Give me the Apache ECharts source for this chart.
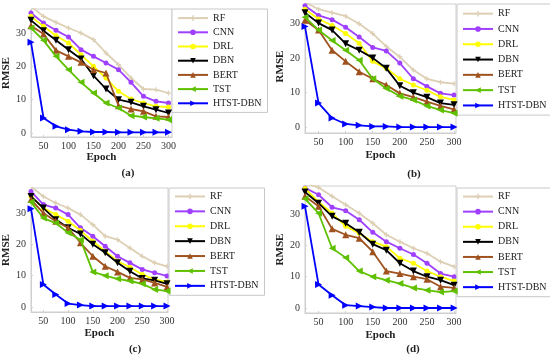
<!DOCTYPE html>
<html>
<head>
<meta charset="utf-8">
<script src="https://cdn.jsdelivr.net/npm/echarts@6/dist/echarts.min.js"></script>
<style>html,body{margin:0;padding:0;background:#fff;}#c{width:550px;height:362px;}</style>
</head>
<body>
<div id="c"></div>
<script>
// ---- data ----
const epochs = [25, 50, 75, 100, 125, 150, 175, 200, 225, 250, 275, 300];
const xTicks = [50, 100, 150, 200, 250, 300];
const yTicks = [0, 10, 20, 30];
const methods = ['RF', 'CNN', 'DRL', 'DBN', 'BERT', 'TST', 'HTST-DBN'];
const panelLabels = ['(a)', '(b)', '(c)', '(d)'];
const xName = 'Epoch';
const yName = 'RMSE';

// panel (a)
const rfA   = [38, 35, 33.2, 31.5, 30, 28, 24, 20.5, 16.5, 13.2, 13, 12];
const cnnA  = [36, 33, 30.8, 28.8, 25, 23, 21, 19, 15.2, 11, 9.5, 9];
const drlA  = [35, 32, 29.2, 27, 23.5, 20, 16.5, 12.5, 10.2, 9, 8, 7.8];
const dbnA  = [33.8, 30.7, 27.8, 25, 22.2, 17.2, 13.2, 10, 9.2, 8, 7, 6];
const bertA = [32.2, 29.7, 24.8, 23, 21.2, 19, 18, 8.2, 7.2, 6.5, 5, 4.8];
const tstA  = [31.5, 27.8, 23, 19, 15.2, 12, 9, 7.5, 5.2, 4.8, 4.4, 4];
const htstA = [27.2, 4.5, 2, 1, 0.5, 0.3, 0.3, 0.2, 0.2, 0.2, 0.2, 0.2];
// panel (b)
const rfB   = [36, 34, 33, 32, 29.8, 27, 23.3, 20.3, 16.5, 14, 13, 12.6];
const cnnB  = [35, 32.2, 31, 28.8, 26, 23, 22, 18.5, 14, 11.8, 9.8, 9.3];
const drlB  = [34, 31.2, 29.3, 27, 24.2, 19, 17, 14, 12.2, 10.7, 8.8, 7.9];
const dbnB  = [33, 30, 28, 24.1, 22.2, 20, 17, 12, 10, 8.7, 7, 6.5];
const bertB = [30.8, 28, 22.2, 19, 16, 14, 12.2, 9.8, 8.7, 7.4, 6.2, 5.2];
const tstB  = [31.7, 28, 25, 22.2, 19.3, 14, 11.2, 9, 7.9, 6.2, 5, 4.1];
const htstB = [29, 7, 2.7, 1, 0.6, 0.3, 0.3, 0.1, 0.1, 0.1, 0.1, 0.1];
// panel (c)
const rfC   = [38.5, 35.3, 33.2, 31.6, 29.5, 26.3, 22.6, 21.5, 18.8, 16.2, 14.1, 13];
const cnnC  = [36.9, 32.7, 31.6, 29.5, 25.3, 22.6, 19.4, 16.2, 14.1, 12, 10.9, 9.9];
const drlC  = [35.3, 31.6, 29.5, 27.4, 24.4, 21, 17.8, 14.6, 12.7, 10.4, 8.8, 8];
const dbnC  = [35.3, 31.6, 27.9, 25.3, 23.3, 20, 17.3, 14.1, 11.4, 9.1, 8.5, 7.4];
const bertC = [34.3, 30, 27.4, 25.3, 20.5, 16.2, 13, 11.2, 9.3, 8.8, 7.7, 6.4];
const tstC  = [33.5, 28.4, 26.8, 23.7, 21.5, 11.2, 10, 9, 8.3, 7.4, 5.6, 5.1];
const htstC = [31.4, 7.2, 4, 1.1, 0.6, 0.3, 0.3, 0.3, 0.3, 0.3, 0.3, 0.3];
// panel (d)
const rfD   = [40, 38.5, 35.7, 33, 30.3, 27.1, 23.4, 21.2, 19.1, 17.5, 14.8, 13.2];
const cnnD  = [38.4, 36.2, 32.2, 31.1, 28.2, 24.2, 21.2, 19.1, 17.1, 14.3, 11, 10];
const drlD  = [38.2, 33.9, 30.3, 26.1, 23.9, 21.2, 19.6, 15.9, 14.3, 11.8, 10, 8.6];
const dbnD  = [37.1, 33.5, 29.3, 27.1, 24.2, 20.4, 18.5, 14.3, 11.8, 10, 8.9, 7.3];
const bertD = [35.7, 32.5, 25.3, 23.4, 22.3, 18, 11.8, 11, 10, 9.2, 6.8, 6.4];
const tstD  = [34.9, 30.3, 19.1, 16.1, 11.8, 10, 8.9, 7.8, 6.4, 5.7, 5.1, 5.4];
const htstD = [32.5, 7.5, 4.1, 0.9, 0.6, 0.3, 0, 0, 0, 0, 0, 0];

const panelData = [
  [rfA, cnnA, drlA, dbnA, bertA, tstA, htstA],
  [rfB, cnnB, drlB, dbnB, bertB, tstB, htstB],
  [rfC, cnnC, drlC, dbnC, bertC, tstC, htstC],
  [rfD, cnnD, drlD, dbnD, bertD, tstD, htstD]
];

// ---- styles ----
const FONT = 'Liberation Serif';
const plusPath = 'path://M-1,-4H1V-1H4V1H1V4H-1V1H-4V-1H-1Z';
const styles = [
  { color: '#ddcfb4', symbol: plusPath, size: 5, rot: 0 },
  { color: '#a040ff', symbol: 'circle', size: 5, rot: 0 },
  { color: '#ffff00', symbol: 'circle', size: 5, rot: 0 },
  { color: '#000000', symbol: 'triangle', size: 7, rot: 180 },
  { color: '#a0521e', symbol: 'triangle', size: 7, rot: 0 },
  { color: '#5fc000', symbol: 'triangle', size: 7, rot: 90 },
  { color: '#0000ff', symbol: 'triangle', size: 7, rot: -90 }
];

// panel geometry (pixels)
const grids = [
  { left: 31, top: 9, w: 141, h: 128, xmax: 307, ymin: -1.2, ymax: 37.2, nameGapY: 16.5, nameGapX: 15, yShift: 0 },
  { left: 305, top: 4, w: 151, h: 129, xmax: 303.7, ymin: -1.6, ymax: 35.5, nameGapY: 19.5, nameGapX: 16.5, yShift: 4 },
  { left: 30, top: 188, w: 138, h: 124, xmax: 302, ymin: -1.6, ymax: 38, nameGapY: 19, nameGapX: 15.5, yShift: 0 },
  { left: 305, top: 186, w: 151, h: 127, xmax: 303.5, ymin: -1.6, ymax: 39, nameGapY: 17.5, nameGapX: 16.5, yShift: 0 }
];
const legends = [
  { left: 172, top: 9, w: 86, gap: 14.2, padTop: 2 },
  { left: 457, top: 4, w: 90, gap: 15.3, padTop: 2 },
  { left: 169, top: 188, w: 86, gap: 14.9, padTop: 1 },
  { left: 457, top: 188, w: 91, gap: 15.1, padTop: 1 }
];
const labelPos = [[128, 173], [414, 174], [135, 349], [413, 349]];

const option = {
  animation: false,
  backgroundColor: '#ffffff',
  textStyle: { fontFamily: FONT },
  grid: [], xAxis: [], yAxis: [], series: [], legend: [], title: []
};

grids.forEach((g, p) => {
  option.grid.push({
    left: g.left, top: g.top, width: g.w, height: g.h,
    show: true, borderColor: '#cfcfcf', borderWidth: 1, backgroundColor: 'transparent'
  });
  option.xAxis.push({
    type: 'value', gridIndex: p, min: 25, max: g.xmax,
    name: xName, nameLocation: 'middle', nameGap: g.nameGapX,
    nameTextStyle: { fontFamily: FONT, fontWeight: 'bold', fontSize: 11, color: '#222' },
    axisLine: { show: true, onZero: false, lineStyle: { color: '#cfcfcf' } },
    axisTick: { show: true, inside: true, length: 2, customValues: xTicks, lineStyle: { color: '#cfcfcf' } },
    axisLabel: { customValues: xTicks, fontFamily: FONT, fontSize: 10, color: '#333', margin: 4 },
    splitLine: { show: false }
  });
  option.yAxis.push({
    type: 'value', gridIndex: p, min: g.ymin, max: g.ymax,
    name: yName, nameLocation: 'middle', nameGap: g.nameGapY, nameRotate: 90,
    nameTextStyle: { fontFamily: FONT, fontWeight: 'bold', fontSize: 11, color: '#222', padding: [0, 0, 0, g.yShift] },
    axisLine: { show: true, onZero: false, lineStyle: { color: '#cfcfcf' } },
    axisTick: { show: true, inside: true, length: 2, customValues: yTicks, lineStyle: { color: '#cfcfcf' } },
    axisLabel: { customValues: yTicks, fontFamily: FONT, fontSize: 10, color: '#333', margin: 5 },
    splitLine: { show: false }
  });
  methods.forEach((m, i) => {
    const s = styles[i];
    option.series.push({
      name: m, type: 'line', xAxisIndex: p, yAxisIndex: p,
      data: epochs.map((e, k) => [e, panelData[p][i][k]]),
      symbol: s.symbol, symbolSize: s.size, symbolRotate: s.rot,
      showAllSymbol: true, clip: true, z: 2 + i,
      lineStyle: { color: s.color, width: 1.8 },
      itemStyle: { color: s.color, borderWidth: 0 }
    });
  });
  const L = legends[p];
  option.legend.push({
    orient: 'vertical', left: L.left, top: L.top, width: L.w,
    data: methods,
    itemWidth: 30, itemHeight: 7, itemGap: 0,
    padding: [L.padTop, 6, 2, 5],
    borderColor: '#c8c8c8', borderWidth: 1, backgroundColor: '#ffffff',
    textStyle: { fontFamily: FONT, fontSize: 10, color: '#222', lineHeight: L.gap, padding: [0, 0, 0, 0] },
    itemStyle: { borderWidth: 0 },
    inactiveColor: '#ccc', selectedMode: false
  });
  option.title.push({
    text: panelLabels[p], left: labelPos[p][0], top: labelPos[p][1], textAlign: 'center', textVerticalAlign: 'middle',
    textStyle: { fontFamily: FONT, fontWeight: 'bold', fontSize: 11, color: '#222' }, padding: 0
  });
});

const chart = echarts.init(document.getElementById('c'), null, { renderer: 'canvas' });
chart.setOption(option);
</script>
</body>
</html>
